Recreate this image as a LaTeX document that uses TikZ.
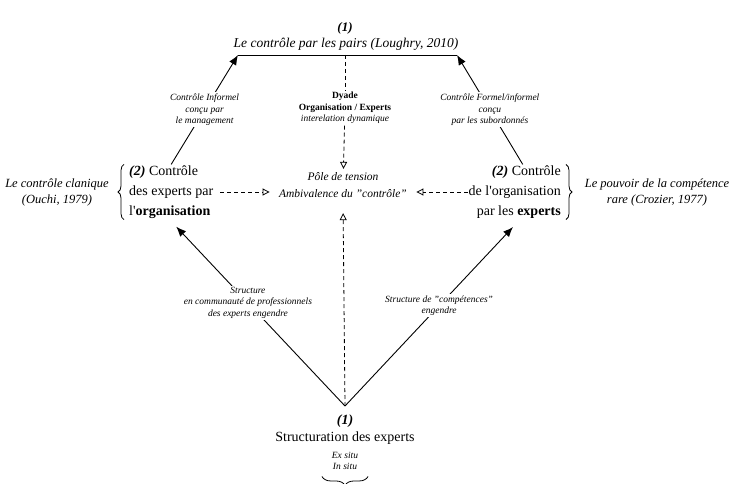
\documentclass[tikz,border=0pt]{standalone}
\usepackage{fontspec}
\setmainfont{Liberation Serif}
\usetikzlibrary{arrows.meta,decorations.pathreplacing}

\begin{document}
\begin{tikzpicture}[x=1pt, y=-1pt, >=Latex,
    lab/.style={font=\fontsize{9.5}{11.5}\selectfont\itshape, align=center, fill=white, inner sep=1.5pt},
    big/.style={font=\fontsize{14}{20}\selectfont, inner sep=1pt},
    side/.style={font=\fontsize{12.5}{16}\selectfont\itshape, align=center},
    dashlink/.style={line width=0.8pt, dash pattern=on 4pt off 3pt, -{Triangle[open, length=7pt, width=7pt]}},
    plain/.style={line width=0.9pt, -{Latex[length=10pt, width=8pt]}},
    curly/.style={decorate, decoration={brace, amplitude=6pt}, line width=0.8pt}]
    \useasboundingbox (0,0) rectangle (734,484);

    % top
    \node[font=\fontsize{13}{15}\selectfont\bfseries\itshape] (one) at (345,28) {(1)};
    \node[font=\fontsize{13.5}{15}\selectfont\itshape] (pairs) at (346,44) {Le contrôle par les pairs (Loughry, 2010)};
    \coordinate (topL) at (238,55);
    \coordinate (topM) at (345,55);
    \coordinate (topR) at (457,55);
    \draw[line width=0.9pt] (topL) -- (topR);

    % centre
    \node[font=\fontsize{11.5}{17}\selectfont\itshape, align=center] (pole) at (343,185) {Pôle de tension\\Ambivalence du "contrôle"};
    \node[lab, font=\fontsize{9.5}{11.5}\selectfont] (dyade) at (345,108) {\textbf{Dyade}\\\textbf{Organisation / Experts}\\\textit{interelation dynamique}};
    \draw[line width=0.8pt, dash pattern=on 4pt off 3pt] (topM) -- (dyade);
    \draw[dashlink] (dyade) -- (pole);

    % les deux controles
    \node[big, align=left, anchor=west] (orgctl) at (128,192) {\textbf{\textit{(2)}} Contrôle\\des experts par\\l\textquotesingle\textbf{organisation}};
    \node[big, align=right, anchor=east] (expctl) at (562,192) {\textbf{\textit{(2)}} Contrôle\\de l\textquotesingle organisation\\par les \textbf{experts}};
    \draw[curly] ([xshift=-4pt]orgctl.south west) -- ([xshift=-4pt]orgctl.north west);
    \draw[curly] ([xshift=4pt]expctl.north east) -- ([xshift=4pt]expctl.south east);
    \node[side] (clan) at (57,192) {Le contrôle clanique\\(Ouchi, 1979)};
    \node[side] (crozier) at (657,192) {Le pouvoir de la compétence\\rare (Crozier, 1977)};
    \draw[dashlink, shorten <=6pt, shorten >=6pt] (orgctl.east) -- (orgctl.east -| pole.west);
    \draw[dashlink, shorten >=6pt] (expctl.west) -- (expctl.west -| pole.east);

    \draw[plain] (orgctl.north) -- node[lab, pos=0.5] {Contrôle Informel\\conçu par\\le management} (topL);
    \draw[plain] ([xshift=8pt]expctl.north) -- node[lab, pos=0.5] {Contrôle Formel/informel\\conçu\\par les subordonnés} (topR);

    % bas
    \coordinate (base) at (345,406);
    \node[font=\fontsize{14}{17}\selectfont, align=center] (struct) at (345,430) {\textbf{\textit{(1)}}\\Structuration des experts};
    \node[font=\fontsize{9.5}{11.5}\selectfont\itshape, align=center] (situ) at (345,461) {Ex situ\\In situ};
    \draw[curly, decoration={amplitude=9pt}] ([xshift=23pt, yshift=-3pt]situ.south) -- ([xshift=-23pt, yshift=-3pt]situ.south);
    \draw[dashlink, shorten >=12pt] (base) -- (pole.south);
    \draw[plain] (base) -- node[lab, pos=0.575] {Structure\\en communauté de professionnels\\des experts engendre} ([xshift=5pt, yshift=-7pt]orgctl.south);
    \draw[plain] (base) -- node[lab, pos=0.56] {Structure de "compétences"\\engendre} (513,227);
\end{tikzpicture}
\end{document}
